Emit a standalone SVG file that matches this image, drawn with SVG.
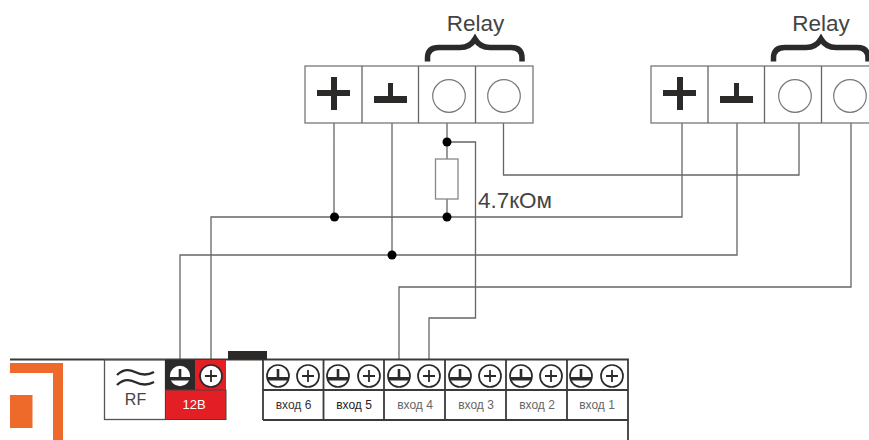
<svg xmlns="http://www.w3.org/2000/svg" width="869" height="440" viewBox="0 0 869 440">
<style>
.w{fill:none;stroke:#666;stroke-width:1.3}
.cell{fill:#fff;stroke:#777;stroke-width:1.3}
.c{fill:#fff;stroke:#777;stroke-width:1.2}
.sym{fill:#2b2a29}
.br{fill:none;stroke:#2b2a29;stroke-width:5.500}
.dot{fill:#000}
.t{font-family:"Liberation Sans",Arial,sans-serif;fill:#444}
.rl{font-size:22.500px;text-anchor:middle}
.in{font-size:12px;text-anchor:middle}
.bl{fill:none;stroke:#3a3a3a;stroke-width:1.8}
.tc{fill:#fff;stroke:#2b2a29;stroke-width:1.7}
.ts{fill:none;stroke:#2b2a29;stroke-width:1.8}
.tg{fill:#2b2a29}
</style>
<defs>
<g id="relay">
<rect class="cell" x="0" y="0" width="228" height="57"/>
<path class="w" d="M57 0V57M113.500 0V57M170.500 0V57"/>
<rect class="sym" x="12" y="24" width="33" height="6"/>
<rect class="sym" x="26" y="11" width="6" height="33"/>
<rect class="sym" x="69" y="30" width="33" height="7"/>
<rect class="sym" x="83" y="17" width="5" height="15"/>
<circle class="c" cx="144" cy="30" r="16.300"/>
<circle class="c" cx="199" cy="30" r="16.300"/>
<path class="br" d="M122.500 -4.500V-8Q122.500 -18.500 134 -18.500H155Q165 -18.500 170 -27Q175 -18.500 185 -18.500H206Q217 -18.500 217 -8V-4.500"/>
</g>
<g id="gnd"><circle class="tc" r="11"/><rect class="tg" x="-10" y="1" width="20" height="3.500"/><rect class="tg" x="-1.300" y="-7" width="2.600" height="9"/></g>
<g id="pls"><circle class="tc" r="11"/><path class="ts" d="M-6 0H6M0-6V6"/></g>
</defs>

<g id="connectors">
<path class="w" d="M334 123V217M392 123V255M447 123V159M447 199V217M447 142H475.500V318H429V359"/>
<path class="w" d="M503.500 123V175H799V123"/>
<path class="w" d="M211 359V217H682V123"/>
<path class="w" d="M180 359V255H737V123"/>
<path class="w" d="M399 359V287H851V123"/>
<circle class="dot" cx="334.500" cy="217" r="4.500"/>
<circle class="dot" cx="447" cy="217" r="4.500"/>
<circle class="dot" cx="447" cy="142" r="4.500"/>
<circle class="dot" cx="392" cy="255" r="4.500"/>
</g>

<g id="relay1"><use href="#relay" x="305" y="66"/><text class="t rl" x="475.500" y="31">Relay</text></g>
<g id="relay2"><use href="#relay" x="651" y="66"/><text class="t rl" x="821" y="31">Relay</text></g>
<g id="resistor"><rect x="435.500" y="159" width="22.500" height="40" fill="#fff" stroke="#888" stroke-width="1.300"/><text class="t" x="478" y="208" font-size="22.500">4.7кОм</text></g>

<g id="board">
<path class="bl" d="M10 359.500H628V440"/>
<rect x="228" y="351" width="39" height="8.500" fill="#2b2a29"/>
<path d="M10 363H63V440H53V373H10Z" fill="#ee6a2b"/>
<rect x="10" y="395" width="22.500" height="33" fill="#ee6a2b"/>
</g>

<g id="rf">
<rect x="104.500" y="360" width="61" height="59.500" fill="#fff" stroke="#555" stroke-width="1.300"/>
<path d="M117 375Q125 367 135 372T154 372M117 385Q125 377 135 382T154 382" fill="none" stroke="#2b2a29" stroke-width="2.300"/>
<text class="t" x="135.500" y="405" font-size="16" text-anchor="middle">RF</text>
</g>

<g id="power">
<rect x="165" y="360" width="30" height="30.500" fill="#2b2a29"/>
<rect x="195" y="360" width="31" height="30.500" fill="#e31e24"/>
<rect x="165.500" y="390" width="60.500" height="29.500" fill="#e31e24" stroke="#444" stroke-width="1"/>
<use href="#gnd" x="180" y="376"/><use href="#pls" x="211" y="376"/>
<text x="194" y="409" font-size="13" text-anchor="middle" fill="#fff" font-family="'Liberation Sans',Arial,sans-serif">12В</text>
</g>

<g id="inputs">
<path class="bl" d="M263 420V360M263 390H628M263 420H628M323.500 360V420M384 360V420M445 360V420M506 360V420M567 360V420"/>
<g id="in6"><use href="#gnd" x="278" y="376"/><use href="#pls" x="308" y="376"/><text class="t in" x="293.500" y="409" style="fill:#333">вход 6</text></g>
<g id="in5"><use href="#gnd" x="338" y="376"/><use href="#pls" x="369" y="376"/><text class="t in" x="354" y="409" style="fill:#222">вход 5</text></g>
<g id="in4"><use href="#gnd" x="399" y="376"/><use href="#pls" x="429" y="376"/><text class="t in" x="415" y="409" style="fill:#666">вход 4</text></g>
<g id="in3"><use href="#gnd" x="460" y="376"/><use href="#pls" x="490" y="376"/><text class="t in" x="476" y="409" style="fill:#666">вход 3</text></g>
<g id="in2"><use href="#gnd" x="521" y="376"/><use href="#pls" x="551" y="376"/><text class="t in" x="537" y="409" style="fill:#666">вход 2</text></g>
<g id="in1"><use href="#gnd" x="581" y="376"/><use href="#pls" x="612" y="376"/><text class="t in" x="597" y="409" style="fill:#666">вход 1</text></g>
</g>
</svg>
